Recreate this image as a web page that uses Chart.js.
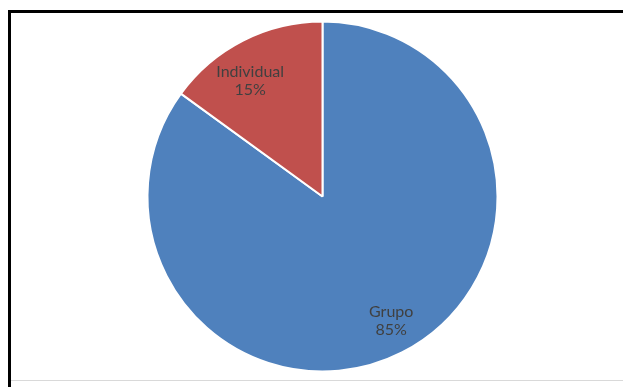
<!DOCTYPE html>
<html>
<head>
<meta charset="utf-8">
<script src="https://cdn.jsdelivr.net/npm/chart.js@4"></script>
<style>
  html, body { margin: 0; padding: 0; background: #fff; }
  #wrap { width: 623px; height: 387px; position: relative; }
</style>
</head>
<body>
<div id="wrap"><canvas id="pieChart"></canvas></div>
<script>
const labels = ["Grupo", "Individual"];
const values = [85, 15];
const colors = ["#4F81BD", "#C0504D"];

// label placement inside slices (radius ratio, angle nudge in degrees)
const labelRatio = [0.81, 0.78];
const labelNudge = [-2, -5];

// frame lines of the cropped chart box
const framePlugin = {
  id: "frame",
  beforeDraw: (chart) => {
    const ctx = chart.ctx;
    ctx.save();
    ctx.fillStyle = "#d9d9d9";
    ctx.fillRect(10, 380, 613, 1);
    ctx.fillStyle = "#000";
    ctx.fillRect(8, 10, 615, 3);
    ctx.fillRect(8, 10, 3, 377);
    ctx.restore();
  }
};

// category name + percent inside each slice
const sliceLabels = {
  id: "sliceLabels",
  afterDatasetsDraw: (chart) => {
    const ctx = chart.ctx;
    const meta = chart.getDatasetMeta(0);
    const total = values.reduce((a, b) => a + b, 0);
    ctx.save();
    ctx.font = "16px Lato";
    ctx.fillStyle = "#404040";
    ctx.textAlign = "center";
    ctx.textBaseline = "middle";
    meta.data.forEach((arc, i) => {
      const mid = (arc.startAngle + arc.endAngle) / 2 + labelNudge[i] * Math.PI / 180;
      const r = arc.outerRadius * labelRatio[i];
      const x = arc.x + Math.cos(mid) * r;
      const y = arc.y + Math.sin(mid) * r;
      const pct = Math.round(values[i] / total * 100) + "%";
      ctx.fillText(labels[i], x, y - 9);
      ctx.fillText(pct, x, y + 9);
    });
    ctx.restore();
  }
};

const ctx = document.getElementById("pieChart").getContext("2d");

new Chart(ctx, {
  type: "pie",
  data: {
    labels: labels,
    datasets: [{
      data: values,
      backgroundColor: colors,
      borderColor: "#fff",
      borderWidth: 2,
      radius: 175
    }]
  },
  options: {
    responsive: true,
    maintainAspectRatio: false,
    animation: false,
    layout: { padding: { left: 22, right: 0, top: 6, bottom: 0 } },
    plugins: {
      legend: { display: false },
      tooltip: { enabled: false }
    }
  },
  plugins: [framePlugin, sliceLabels]
});
</script>
</body>
</html>
